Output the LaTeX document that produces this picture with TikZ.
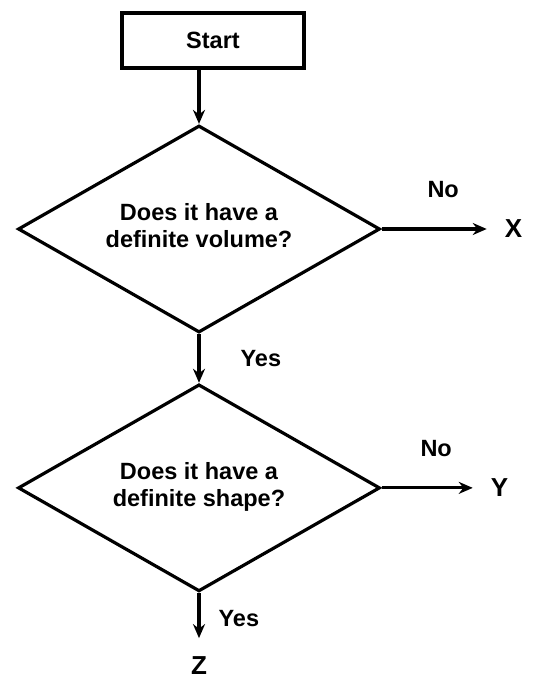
\documentclass[tikz,border=0pt]{standalone}
\usepackage{fontspec}
\setmainfont{Liberation Sans}
\usetikzlibrary{matrix,shapes.geometric,arrows.meta}
\newcommand{\qtext}[2]{\begin{tabular}{@{}c@{}}#1\\#2\end{tabular}}

\begin{document}
\begin{tikzpicture}[x=1pt,y=1pt,ampersand replacement=\&,
    every node/.style={font=\bfseries\fontsize{23.5}{27}\selectfont,inner sep=0pt},
    startbox/.style={draw,line width=3.2pt,minimum width=182pt,minimum height=55pt},
    decision/.style={draw,diamond,aspect=1.75,line width=3.2pt,minimum width=362pt,minimum height=207pt},
    letter/.style={inner sep=0pt,font=\bfseries\fontsize{26}{28}\selectfont},
    flow/.style={-{Stealth[length=14pt,width=12pt]},line width=3.2pt}]
  \useasboundingbox (0,0) rectangle (536,-684);
  \matrix(m)[matrix of nodes,row sep=0pt,column sep=110pt,
    nodes={anchor=center},matrix anchor=m-2-1.center] at (199,-229)
  { |[startbox,xshift=14pt]| Start \& \\[55pt]
    |[decision]| \qtext{Does it have a}{definite volume?} \& |[letter]| X \\[50pt]
    |[decision]| \qtext{Does it have a}{definite shape?} \& |[letter,xshift=-14pt]| Y \\[64pt]
    |[letter]| Z \& \\};
  \path[flow]
    (m-2-1.north |- m-1-1.south) edge (m-2-1)
    (m-2-1) edge node [right=40pt] {Yes} (m-3-1)
    (m-3-1) edge[shorten >=18pt] node [right=18pt,pos=.4] {Yes} (m-4-1);
  \path[flow,shorten >=18pt]
    (m-2-1) edge node [above=30pt] {No} (m-2-2)
    (m-3-1) edge node [above=30pt] {No} (m-3-2);
\end{tikzpicture}
\end{document}
